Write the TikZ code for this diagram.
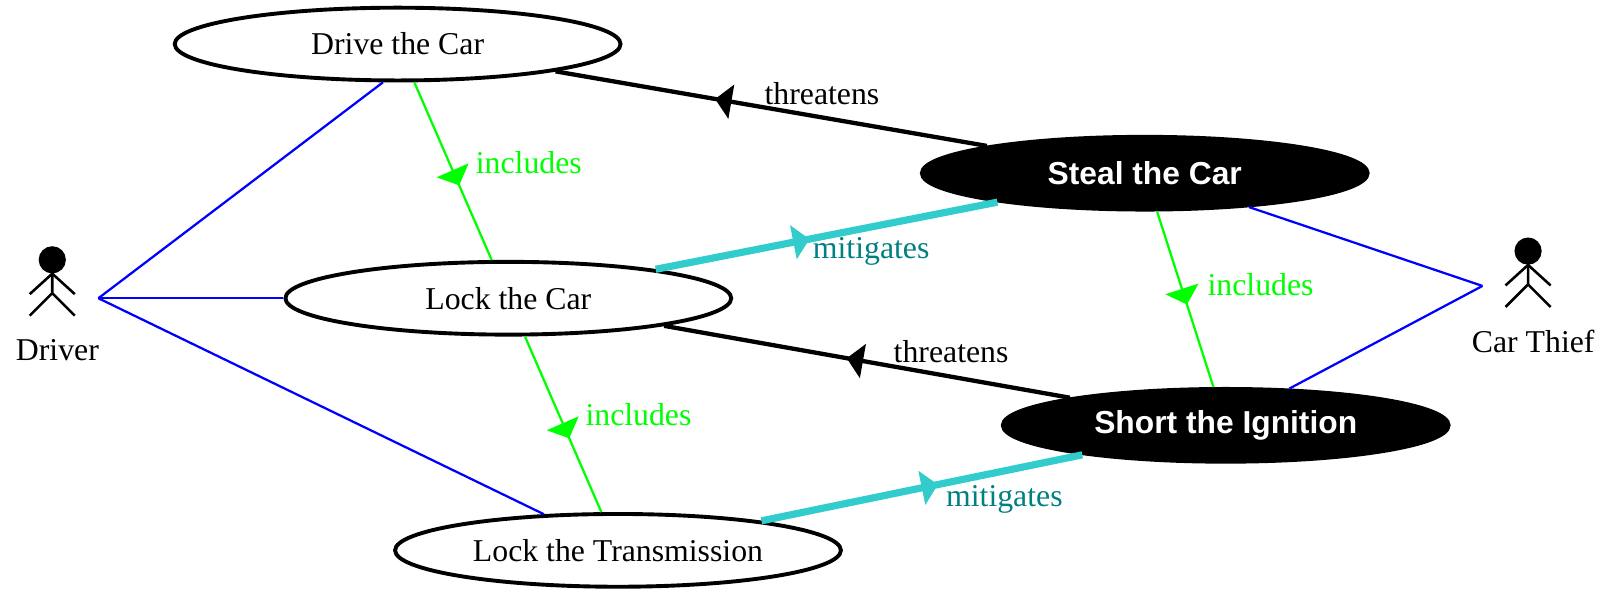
\documentclass[tikz,border=0pt]{standalone}
\usepackage{fontspec}
\setmainfont{Liberation Serif}
\newfontfamily\misusefont{Liberation Sans}
\usepackage{tikz}
\usetikzlibrary{arrows.meta, calc, shapes.geometric, decorations.markings}
\definecolor{linkBlue}{rgb}{0, 0, 1}
\definecolor{incGreen}{rgb}{0, 1, 0}
\definecolor{mitCyan}{RGB}{51, 204, 204}
\definecolor{mitTeal}{RGB}{0, 128, 128}
\newcommand{\StickActor}[3]{
	\def\lpin{#1}
	\def\lname{#2}
	\def\ltext{#3}
	\filldraw[actor] ($ (\lpin)+(0,-13.5) $) circle (12pt);
	\draw[actor] (\lpin) -- ++(0,19) ++(-22,22) -- ++(22,-22) -- ++(22,22);
	\draw[actor] ($ (\lpin)+(-22,20) $) -- (\lpin) -- ++(22,20);
	\node[lbl] (\lname) at ($ (\lpin)+(5,85) $) {\ltext};
}

\begin{document}
\begin{tikzpicture}[x=1pt, y=-1pt,
	usecase/.style={ellipse, draw, fill=white, line width=3.8pt, minimum width=435pt, minimum height=71pt, inner sep=0pt, font=\fontsize{31}{37}\selectfont},
	misuse/.style={usecase, fill=black, text=white, font=\misusefont\bfseries\fontsize{31}{37}\selectfont},
	lbl/.style={anchor=base, inner sep=0pt, font=\fontsize{31}{37}\selectfont},
	actor/.style={black, line width=2.5pt},
	midtip/.style={postaction={decorate}, decoration={markings, mark=at position #1 with {\arrow{Triangle[length=16pt, width=34pt, line width=0pt]}}}},
	actorlink/.style={linkBlue, line width=2.2pt},
	include/.style={incGreen, line width=2.2pt, midtip=#1},
	threat/.style={black, line width=4.2pt, midtip=#1},
	mitigate/.style={mitCyan, line width=7pt, midtip=#1}]

	\useasboundingbox (0,0) rectangle (1569,576);

	% use cases
	\node[usecase] (drive) at (388,43) {Drive the Car};
	\node[usecase] (lockcar) at (496,291) {Lock the Car};
	\node[usecase] (locktrans) at (603,537) {Lock the Transmission};

	% misuse cases
	\node[misuse] (steal) at (1117,169) {Steal the Car};
	\node[misuse] (short) at (1196,415) {Short the Ignition};

	% actors
	\coordinate (drvbody) at (51,267);
	\coordinate (thfbody) at (1491,258.5);
	\StickActor{drvbody}{driver}{Driver}
	\StickActor{thfbody}{thief}{Car Thief}
	\coordinate (drvpt) at (96,291);
	\coordinate (thfpt) at (1446.5,279);

	\draw[actorlink] (drvpt) -- (drive.249);
	\draw[actorlink] (drvpt) -- (lockcar.west);
	\draw[actorlink] (drvpt) -- (locktrans.154);
	\draw[actorlink] (thfpt) -- (steal.-18);
	\draw[actorlink] (thfpt) -- (short.30);

	\draw[include=0.58] (drive) -- (lockcar);
	\draw[include=0.58] (lockcar) -- (locktrans);
	\draw[include=0.53] (steal) -- (short);

	\draw[threat=0.63] (steal) -- (drive);
	\draw[threat=0.55] (short) -- (lockcar);

	\draw[mitigate=0.45] (lockcar) -- (steal);
	\draw[mitigate=0.55] (locktrans) -- (short);

	% edge labels
	\node[lbl] (thr1) at (802,102) {threatens};
	\node[lbl] (thr2) at (928,354) {threatens};
	\node[lbl, mitTeal] (mit1) at (850,252) {mitigates};
	\node[lbl, mitTeal] (mit2) at (980,494) {mitigates};
	\node[lbl, incGreen] (inc1) at (516,169) {includes};
	\node[lbl, incGreen] (inc2) at (623,415) {includes};
	\node[lbl, incGreen] (inc3) at (1230,288) {includes};

\end{tikzpicture}
\end{document}
